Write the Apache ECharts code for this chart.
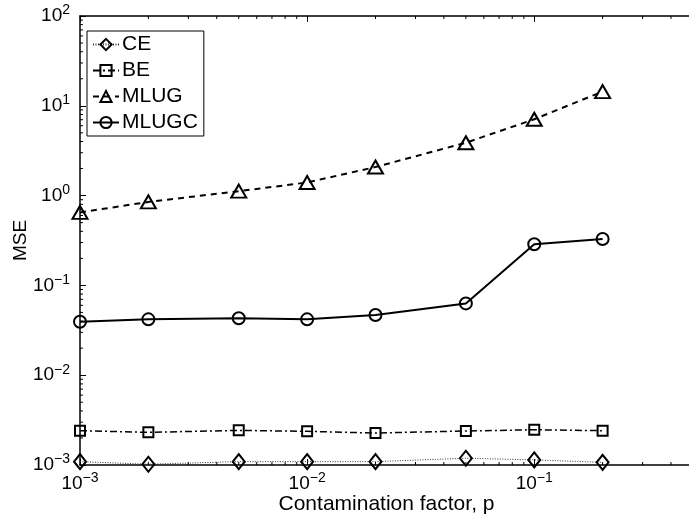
<!DOCTYPE html>
<html>
<head>
<meta charset="utf-8">
<script src="https://cdn.jsdelivr.net/npm/echarts@6/dist/echarts.min.js"></script>
<style>html,body{margin:0;padding:0;background:#fff}#c{width:689px;height:527px}</style>
</head>
<body>
<div id="c"></div>
<script>
const pValues = [0.001, 0.002, 0.005, 0.01, 0.02, 0.05, 0.1, 0.2];
const ceValues = [1.09e-3, 1.02e-3, 1.09e-3, 1.09e-3, 1.09e-3, 1.19e-3, 1.14e-3, 1.07e-3];
const beValues = [2.41e-3, 2.31e-3, 2.43e-3, 2.37e-3, 2.27e-3, 2.39e-3, 2.47e-3, 2.41e-3];
const mlugValues = [0.65, 0.85, 1.12, 1.40, 2.08, 3.88, 7.08, 14.4];
const mlugcValues = [0.0394, 0.0419, 0.0430, 0.0419, 0.0468, 0.063, 0.287, 0.329];
const seriesNames = ['CE', 'BE', 'MLUG', 'MLUGC'];
const xLabel = 'Contamination factor, p';
const yLabel = 'MSE';
const X_MIN = 0.001, X_MAX = 0.5, Y_MIN = 0.001, Y_MAX = 100;

const FONT = 'Liberation Sans, Arial, Helvetica, sans-serif';

function pow10Label(v) {
  const e = Math.round(Math.log10(v));
  const s = e < 0 ? '\u2212' + (-e) : String(e);
  return '10{sup|' + s + '}';
}
const richLabel = {
  sup: { fontSize: 14, fontFamily: FONT, color: '#000', verticalAlign: 'bottom', padding: [0, 0, 11, 0] }
};

// minor tick values (2..9 x 10^k) inside the axis ranges
const xMinor = [];
for (let e = -3; e <= 0; e++) for (let m = 2; m <= 9; m++) {
  const v = m * Math.pow(10, e);
  if (v > X_MIN && v < X_MAX) xMinor.push([v, Y_MIN]);
}
const yMinor = [];
for (let e = -3; e <= 2; e++) for (let m = 2; m <= 9; m++) {
  const v = m * Math.pow(10, e);
  if (v > Y_MIN && v < Y_MAX) yMinor.push([X_MIN, v]);
}

function pairs(ys) { return pValues.map((x, i) => [x, ys[i]]); }

const chart = echarts.init(document.getElementById('c'), null, { renderer: 'canvas' });

const markerStyle = { color: 'rgba(0,0,0,0)', borderColor: '#000', borderWidth: 2 };

const option = {
  backgroundColor: '#fff',
  animation: false,
  textStyle: { fontFamily: FONT },
  grid: { left: 80, right: -4, top: 16, bottom: 62, containLabel: false, outerBoundsMode: 'none' },
  legend: {
    data: seriesNames,
    orient: 'vertical',
    left: 87, top: 31,
    backgroundColor: '#fff',
    borderColor: '#000', borderWidth: 1, borderRadius: 0,
    padding: [3, 6, 3, 5],
    itemWidth: 26, itemHeight: 14, itemGap: 5,
    textStyle: { fontSize: 21, color: '#000', fontFamily: FONT, padding: [0, 0, 0, -2] }
  },
  xAxis: [{
    type: 'log', logBase: 10, min: X_MIN, max: X_MAX,
    name: xLabel, nameLocation: 'middle', nameGap: 29, nameMoveOverlap: false,
    nameTextStyle: { fontSize: 21, color: '#000', fontFamily: FONT },
    axisLine: { show: true, lineStyle: { color: '#000', width: 1.5 } },
    axisTick: { show: true, inside: true, length: 6, lineStyle: { color: '#000', width: 1 } },
    minorTick: { show: false },
    splitLine: { show: false },
    axisLabel: { fontSize: 19, color: '#000', fontFamily: FONT, margin: 6, formatter: pow10Label, rich: richLabel, showMaxLabel: false }
  }, {
    type: 'log', logBase: 10, min: X_MIN, max: X_MAX, position: 'top', gridIndex: 0,
    axisLine: { show: true, onZero: false, lineStyle: { color: '#000', width: 1.5 } },
    axisTick: { show: true, inside: true, length: 6, lineStyle: { color: '#000', width: 1 } },
    splitLine: { show: false },
    axisLabel: { show: false }
  }],
  yAxis: [{
    type: 'log', logBase: 10, min: Y_MIN, max: Y_MAX,
    name: yLabel, nameLocation: 'middle', nameGap: 50, nameRotate: 90, nameMoveOverlap: false,
    nameTextStyle: { fontSize: 19, color: '#000', fontFamily: FONT },
    axisLine: { show: true, lineStyle: { color: '#000', width: 1.5 } },
    axisTick: { show: true, inside: true, length: 6, lineStyle: { color: '#000', width: 1 } },
    splitLine: { show: false },
    axisLabel: { fontSize: 19, color: '#000', fontFamily: FONT, margin: 10, formatter: pow10Label, rich: richLabel }
  }],
  series: [
    {
      name: 'CE', type: 'line', data: pairs(ceValues), xAxisIndex: 0, yAxisIndex: 0,
      symbol: 'diamond', symbolSize: [12, 15], showAllSymbol: true, clip: false,
      lineStyle: { color: '#333', width: 1, type: [1, 1.5] },
      itemStyle: markerStyle, z: 3
    },
    {
      name: 'BE', type: 'line', data: pairs(beValues), xAxisIndex: 0, yAxisIndex: 0,
      symbol: 'rect', symbolSize: 10, showAllSymbol: true, clip: false,
      lineStyle: { color: '#000', width: 1.5, type: [7, 3, 2, 3] },
      itemStyle: markerStyle, z: 3
    },
    {
      name: 'MLUG', type: 'line', data: pairs(mlugValues), xAxisIndex: 0, yAxisIndex: 0,
      symbol: 'triangle', symbolSize: [15, 13], showAllSymbol: true, clip: false,
      lineStyle: { color: '#000', width: 2, type: [6, 5] },
      itemStyle: markerStyle, z: 3
    },
    {
      name: 'MLUGC', type: 'line', data: pairs(mlugcValues), xAxisIndex: 0, yAxisIndex: 0,
      symbol: 'circle', symbolSize: 12, showAllSymbol: true, clip: false,
      lineStyle: { color: '#000', width: 2, type: 'solid' },
      itemStyle: markerStyle, z: 3
    },
    {
      type: 'custom', name: 'xminor', data: xMinor, xAxisIndex: 0, yAxisIndex: 0, clip: false, silent: true,
      renderItem: function (params, api) {
        const b = api.coord([api.value(0), Y_MIN]);
        const t = api.coord([api.value(0), Y_MAX]);
        const st = { stroke: '#000', lineWidth: 1 };
        return { type: 'group', children: [
          { type: 'line', shape: { x1: b[0], y1: b[1], x2: b[0], y2: b[1] - 3 }, style: st },
          { type: 'line', shape: { x1: t[0], y1: t[1], x2: t[0], y2: t[1] + 3 }, style: st }
        ] };
      }
    },
    {
      type: 'custom', name: 'yminor', data: yMinor, xAxisIndex: 0, yAxisIndex: 0, clip: false, silent: true,
      renderItem: function (params, api) {
        const l = api.coord([X_MIN, api.value(1)]);
        return { type: 'line', shape: { x1: l[0], y1: l[1], x2: l[0] + 3, y2: l[1] }, style: { stroke: '#000', lineWidth: 1 } };
      }
    }
  ]
};
chart.setOption(option);
</script>
</body>
</html>
